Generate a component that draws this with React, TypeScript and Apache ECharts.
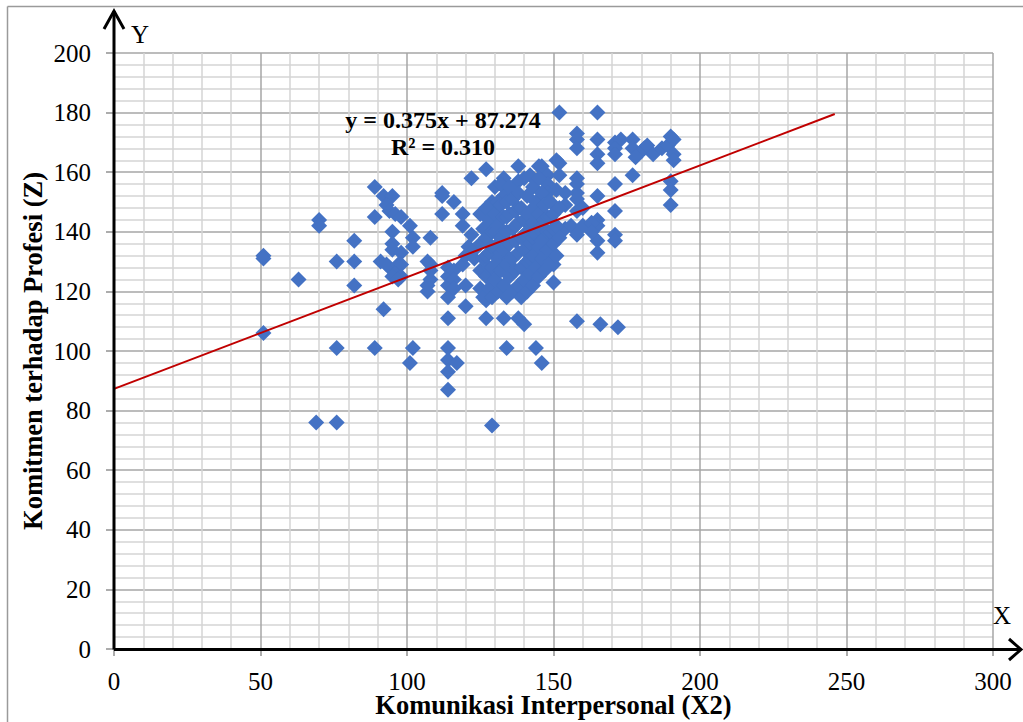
import React, { useEffect, useRef } from "react";
import * as echarts from "echarts";

const xTicks = [0, 50, 100, 150, 200, 250, 300];
const yTicks = [0, 20, 40, 60, 80, 100, 120, 140, 160, 180, 200];

const slope = [0.375];
const intercept = [87.274];
const trendXRange = [0, 246];
const equationText = ["y = 0.375x + 87.274", "R² = 0.310"];

// outer / sparse points
const pointsOuter: number[][] = [
  [51, 132], [51, 131], [51, 106], [63, 124], [70, 144], [70, 142], [69, 76], [76, 76],
  [76, 130], [76, 101], [82, 137], [82, 130], [82, 122], [89, 155], [89, 145], [89, 101],
  [92, 152], [95, 152], [93, 149], [94, 147], [96, 146], [98, 145], [95, 140], [101, 142],
  [102, 138], [102, 135], [95, 136], [95, 134], [98, 133], [91, 130], [93, 129], [94, 128],
  [97, 129], [98, 129], [96, 126], [98, 125], [95, 125], [97, 124], [92, 114], [102, 101],
  [101, 96], [108, 138], [107, 130], [108, 129], [108, 127], [108, 124], [107, 122], [107, 120],
  [112, 152], [112, 146], [112, 153], [116, 150], [119, 146], [119, 142], [122, 139], [121, 135],
  [114, 128], [114, 125], [114, 122], [114, 118], [116, 127], [116, 124], [116, 121], [119, 129],
  [120, 132], [120, 122], [120, 115], [123, 134], [123, 131], [114, 111], [114, 101], [114, 97],
  [117, 96], [114, 93], [114, 87], [127, 117], [127, 111], [133, 111], [138, 111], [140, 109],
  [134, 101], [144, 101], [146, 96], [129, 75], [122, 158], [127, 161], [133, 158], [138, 162],
  [145, 162], [146, 162], [151, 164], [142, 159], [148, 159], [148, 156], [148, 153], [138, 157],
  [133, 155], [133, 152], [152, 180], [165, 180], [158, 173], [158, 171], [158, 168], [165, 171],
  [165, 166], [165, 163], [171, 170], [173, 171], [171, 168], [171, 166], [177, 171], [177, 168],
  [180, 167], [178, 165], [181, 168], [182, 169], [184, 166], [187, 168], [189, 169], [190, 172],
  [191, 171], [191, 166], [191, 164], [190, 157], [190, 154], [190, 149], [177, 159], [171, 156],
  [171, 147], [171, 139], [171, 137], [165, 152], [165, 144], [165, 142], [165, 137], [165, 133],
  [158, 110], [166, 109], [172, 108], [152, 159], [158, 158], [158, 156], [158, 153], [158, 151],
  [154, 153], [154, 149], [158, 147], [160, 148], [154, 141], [156, 142], [158, 139], [160, 142],
  [163, 143], [163, 140], [150, 129],
];

// dense central cluster
const pointsCluster: number[][] = [
  [125, 146], [125, 136], [125, 127], [125, 121],
  [126, 141], [126, 131], [126, 118],
  [127, 148], [127, 138], [127, 125], [127, 132],
  [128, 144], [128, 133], [128, 121], [128, 128],
  [129, 150], [129, 140], [129, 128], [129, 118], [129, 135],
  [130, 155], [130, 146], [130, 135], [130, 124], [130, 140],
  [131, 142], [131, 131], [131, 120], [131, 150],
  [132, 156], [132, 149], [132, 138], [132, 127], [132, 133],
  [133, 145], [133, 134], [133, 122], [133, 140],
  [134, 150], [134, 140], [134, 129], [134, 118], [134, 145],
  [135, 155], [135, 146], [135, 136], [135, 125], [135, 131],
  [136, 151], [136, 141], [136, 131], [136, 120],
  [137, 147], [137, 137], [137, 127], [137, 142],
  [138, 153], [138, 143], [138, 133], [138, 122], [138, 148],
  [139, 148], [139, 138], [139, 128], [139, 118],
  [140, 158], [140, 144], [140, 134], [140, 124], [140, 139],
  [141, 152], [141, 140], [141, 130], [141, 120], [141, 146],
  [142, 147], [142, 136], [142, 126], [142, 131],
  [143, 155], [143, 143], [143, 132], [143, 122], [143, 138],
  [144, 150], [144, 139], [144, 128], [144, 145],
  [145, 158], [145, 146], [145, 135], [145, 125], [145, 141],
  [146, 153], [146, 142], [146, 131], [146, 137],
  [147, 149], [147, 138], [147, 127], [147, 144],
  [148, 145], [148, 134], [148, 140],
  [149, 150], [149, 140], [149, 130], [149, 145],
  [150, 146], [150, 136], [150, 123], [150, 141],
  [151, 154], [151, 142], [151, 132],
  [152, 163], [152, 148], [152, 138],
];

const SERIF = "'Liberation Serif', 'Times New Roman', serif";

export default function App() {
  const ref = useRef<HTMLDivElement>(null);

  useEffect(() => {
    if (!ref.current) return;
    const chart = echarts.init(ref.current, undefined, { renderer: "svg" });
    const trendData = trendXRange.map((x) => [x, slope[0] * x + intercept[0]]);

    chart.setOption({
      animation: false,
      backgroundColor: "#ffffff",
      grid: { left: 114, right: 30, top: 53, bottom: 73, containLabel: false, outerBoundsMode: "none" },
      xAxis: {
        type: "value",
        min: xTicks[0],
        max: xTicks[xTicks.length - 1],
        interval: 50,
        name: "Komunikasi Interpersonal (X2)",
        nameLocation: "middle",
        nameGap: 45,
        nameMoveOverlap: false,
        nameTextStyle: { fontFamily: SERIF, fontWeight: "bold", fontSize: 26.5, lineHeight: 22, color: "#000" },
        axisLine: { show: false },
        axisTick: { show: true, length: 7, lineStyle: { color: "#909090", width: 1.5 } },
        axisLabel: { fontFamily: SERIF, fontSize: 25, lineHeight: 20, color: "#000", margin: 22 },
        splitLine: { show: true, lineStyle: { color: "#a6a6a6", width: 1.5 } },
        minorTick: { show: false, splitNumber: 5 },
        minorSplitLine: { show: true, lineStyle: { color: "#d4d4d4", width: 1.5 } },
      },
      yAxis: {
        type: "value",
        min: yTicks[0],
        max: yTicks[yTicks.length - 1],
        interval: 20,
        name: "Komitmen terhadap Profesi (Z)",
        nameLocation: "middle",
        nameGap: 68,
        nameMoveOverlap: false,
        nameTextStyle: { fontFamily: SERIF, fontWeight: "bold", fontSize: 26.5, color: "#000" },
        axisLine: { show: false },
        axisTick: { show: true, length: 8, lineStyle: { color: "#909090", width: 1.5 } },
        axisLabel: { fontFamily: SERIF, fontSize: 25, color: "#000", margin: 23 },
        splitLine: { show: true, lineStyle: { color: "#a6a6a6", width: 1.5 } },
        minorTick: { show: false, splitNumber: 5 },
        minorSplitLine: { show: true, lineStyle: { color: "#d4d4d4", width: 1.5 } },
      },
      series: [
        {
          type: "scatter",
          data: [...pointsOuter, ...pointsCluster],
          symbol: "diamond",
          symbolSize: 16,
          itemStyle: { color: "#4472C4", opacity: 1 },
          z: 3,
        },
        {
          type: "line",
          data: trendData,
          symbol: "none",
          lineStyle: { color: "#C00000", width: 2 },
          z: 4,
        },
      ],
      graphic: [
        { type: "line", shape: { x1: 7.5, y1: 6.5, x2: 1100, y2: 6.5 }, style: { stroke: "#9a9a9a", lineWidth: 1.5 }, z: 10 },
        { type: "line", shape: { x1: 7.5, y1: 6.5, x2: 7.5, y2: 800 }, style: { stroke: "#9a9a9a", lineWidth: 1.5 }, z: 10 },
        { type: "line", shape: { x1: 114, y1: 649.5, x2: 114, y2: 11 }, style: { stroke: "#000", lineWidth: 3 }, z: 10 },
        { type: "polyline", shape: { points: [[104, 29], [114, 11], [124, 29]] }, style: { stroke: "#000", lineWidth: 3, fill: null }, z: 10 },
        { type: "line", shape: { x1: 114, y1: 649.5, x2: 1021, y2: 649.5 }, style: { stroke: "#000", lineWidth: 3 }, z: 10 },
        { type: "polyline", shape: { points: [[1009, 639], [1021, 649.5], [1009, 660]] }, style: { stroke: "#000", lineWidth: 3, fill: null }, z: 10 },
        { type: "text", x: 131, y: 34, style: { text: "Y", font: `25px ${SERIF}`, fill: "#000", verticalAlign: "middle" }, z: 10 },
        { type: "text", x: 993, y: 615, style: { text: "X", font: `25px ${SERIF}`, fill: "#000", verticalAlign: "middle" }, z: 10 },
        { type: "text", x: 443, y: 120, style: { text: equationText[0], font: `bold 24px ${SERIF}`, fill: "#000", align: "center", verticalAlign: "middle" }, z: 10 },
        { type: "text", x: 443, y: 147, style: { text: equationText[1], font: `bold 24px ${SERIF}`, fill: "#000", align: "center", verticalAlign: "middle" }, z: 10 },
      ],
    });

    return () => chart.dispose();
  }, []);

  return (
    <div
      ref={ref}
      style={{ position: "fixed", left: 0, top: 0, width: 1023, height: 722 }}
    />
  );
}
